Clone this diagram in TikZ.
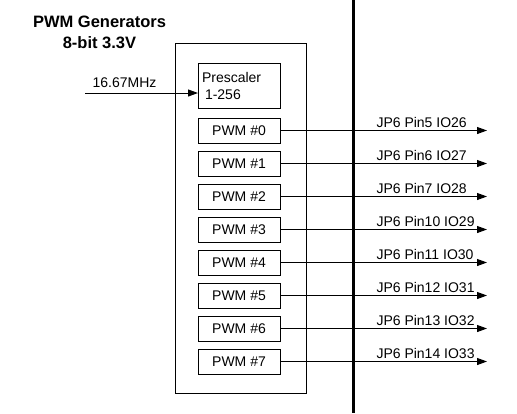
\documentclass[tikz,border=0pt]{standalone}
\usepackage{fontspec}
\setmainfont{Liberation Sans}
\usetikzlibrary{positioning,arrows.meta}

\begin{document}
\begin{tikzpicture}[x=1pt, y=-1pt, node distance={8pt}, line width=1pt,
    >={Triangle[length=10pt,width=7pt]},
    title/.style = {align=center, font=\fontsize{16.5}{21}\selectfont\bfseries},
    pwm/.style = {draw, minimum width=82pt, minimum height=25pt, inner sep=0pt, outer sep=0pt, font=\fontsize{14}{17}\selectfont},
    pin/.style = {anchor=south west, inner sep=0pt, yshift=2pt, font=\fontsize{14}{17}\selectfont}]
    \useasboundingbox (0,0) rectangle (517,413);

    \node[title] (head) at (99.5,32) {PWM Generators\\8-bit 3.3V};
    \node[draw, minimum width=131pt, minimum height=350pt] (gen) at (240.5,218) {};
    \node[draw, minimum width=82pt, minimum height=45pt, text width=74pt, inner sep=4pt, outer sep=0pt,
          align=left, font=\fontsize{14}{17}\selectfont] (pre) at (239,85.5) {Prescaler\\\hspace{3pt}1-256};

    \node[pwm] (p0) [below=10pt of pre] {PWM \#0};
    \node[pwm] (p1) [below=of p0] {PWM \#1};
    \node[pwm] (p2) [below=of p1] {PWM \#2};
    \node[pwm] (p3) [below=of p2] {PWM \#3};
    \node[pwm] (p4) [below=of p3] {PWM \#4};
    \node[pwm] (p5) [below=of p4] {PWM \#5};
    \node[pwm] (p6) [below=of p5] {PWM \#6};
    \node[pwm] (p7) [below=of p6] {PWM \#7};

    \coordinate (clk) at (85,93);
    \coordinate (lab) at (376,0);
    \coordinate (out) at (487,0);
    \coordinate (bartop) at (353,0);
    \coordinate (barbot) at (353,413);

    \node[pin] (l0) at (p0.east -| lab) {JP6 Pin5 IO26};
    \node[pin] (l1) at (p1.east -| lab) {JP6 Pin6 IO27};
    \node[pin] (l2) at (p2.east -| lab) {JP6 Pin7 IO28};
    \node[pin] (l3) at (p3.east -| lab) {JP6 Pin10 IO29};
    \node[pin] (l4) at (p4.east -| lab) {JP6 Pin11 IO30};
    \node[pin] (l5) at (p5.east -| lab) {JP6 Pin12 IO31};
    \node[pin] (l6) at (p6.east -| lab) {JP6 Pin13 IO32};
    \node[pin] (l7) at (p7.east -| lab) {JP6 Pin14 IO33};

    % supply bar
    \draw[line width=3pt] (bartop) -- (barbot);

    \draw[->] (clk) -- (clk -| pre.west)
        node[pos=0.35, above=5pt, inner sep=0pt, font=\fontsize{14}{17}\selectfont] (freq) {16.67MHz};

    \draw[->] (p0.east) -- (p0.east -| out);
    \draw[->] (p1.east) -- (p1.east -| out);
    \draw[->] (p2.east) -- (p2.east -| out);
    \draw[->] (p3.east) -- (p3.east -| out);
    \draw[->] (p4.east) -- (p4.east -| out);
    \draw[->] (p5.east) -- (p5.east -| out);
    \draw[->] (p6.east) -- (p6.east -| out);
    \draw[->] (p7.east) -- (p7.east -| out);

\end{tikzpicture}
\end{document}
